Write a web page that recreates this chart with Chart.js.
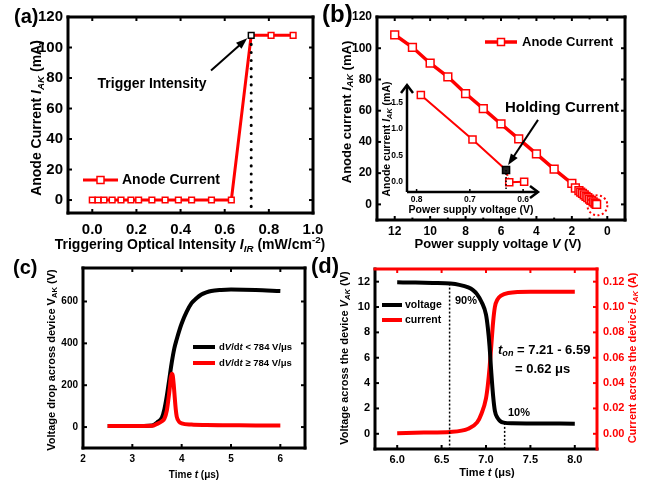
<!DOCTYPE html>
<html>
<head>
<meta charset="utf-8">
<script src="https://cdn.jsdelivr.net/npm/chart.js@4.4.1/dist/chart.umd.min.js"></script>
<style>
  html, body { margin: 0; padding: 0; background: #fff; }
  #wrap { position: relative; width: 650px; height: 482px; overflow: hidden; background: #fff; }
  #wrap canvas { position: absolute; left: 0; top: 0; }
</style>
</head>
<body>
<div id="wrap">
  <canvas id="chartA" width="650" height="482"></canvas>
  <canvas id="chartB" width="650" height="482"></canvas>
  <canvas id="chartInset" width="650" height="482"></canvas>
  <canvas id="chartC" width="650" height="482"></canvas>
  <canvas id="chartD" width="650" height="482"></canvas>
</div>
<script>
const FONT = '"Liberation Sans", Arial, Helvetica, sans-serif';
const RED = '#ff0000';

// (a) anode current vs triggering optical intensity
const aIntensity = [0, 0.026, 0.053, 0.09, 0.13, 0.175, 0.21, 0.27, 0.33, 0.39, 0.45, 0.54, 0.63, 0.72, 0.81, 0.91];
const aCurrent = [0, 0, 0, 0, 0, 0, 0, 0, 0, 0, 0, 0, 0, 108, 108, 108];
const aTriggerIdx = 13;
const aXTicks = [0, 0.2, 0.4, 0.6, 0.8, 1.0];
const aYTicks = [0, 20, 40, 60, 80, 100, 120];

// (b) anode current vs power supply voltage
const bVoltage = [12, 11, 10, 9, 8, 7, 6, 5, 4, 3, 2, 1.8, 1.6, 1.5, 1.4, 1.3, 1.2, 1.1, 1.0, 0.9, 0.8, 0.7, 0.65, 0.6];
const bCurrent = [108.6, 100.6, 90.4, 81.7, 71.0, 61.3, 51.5, 42.0, 32.3, 22.6, 13.4, 10.5, 8.8, 7.9, 7.0, 6.1, 5.2, 4.3, 3.4, 2.5, 1.6, 0.8, 0.3, 0.0];
const bXTicks = [12, 10, 8, 6, 4, 2, 0];
const bXMinor = [13, 11, 9, 7, 5, 3, 1];
const bYTicks = [0, 20, 40, 60, 80, 100, 120];

// (b) inset, holding current
const insetVoltage = [0.792, 0.695, 0.632, 0.626, 0.598];
const insetCurrent = [1.64, 0.80, 0.22, -0.01, 0.0];
const insetHoldIdx = 2;
const insetXTicks = [0.8, 0.7, 0.6];
const insetYTicks = [0, 0.5, 1.0, 1.5];

// (c) voltage drop across device
const cTimeSlow = [2.5, 3.0, 3.4, 3.5, 3.6, 3.65, 3.7, 3.75, 3.8, 3.85, 3.9, 3.95, 4.0, 4.1, 4.2, 4.3, 4.4, 4.5, 4.6, 4.8, 5.0, 5.5, 6.0];
const cVoltSlow = [5, 5, 8, 22, 45, 85, 150, 230, 310, 375, 420, 460, 495, 550, 592, 615, 633, 643, 650, 655, 657, 655, 650];
const cTimeFast = [2.5, 3.0, 3.4, 3.5, 3.6, 3.65, 3.7, 3.73, 3.76, 3.78, 3.8, 3.82, 3.84, 3.86, 3.88, 3.9, 3.95, 4.0, 4.2, 4.5, 5.0, 5.5, 6.0];
const cVoltFast = [5, 5, 6, 15, 28, 40, 80, 130, 190, 235, 255, 245, 200, 140, 85, 50, 25, 18, 12, 10, 9, 8, 8];
const cXTicks = [2, 3, 4, 5, 6];
const cYTicks = [0, 200, 400, 600];

// (d) turn-on transient
const dTimeV = [6.0, 6.2, 6.4, 6.6, 6.7, 6.8, 6.85, 6.9, 6.95, 7.0, 7.02, 7.04, 7.06, 7.08, 7.1, 7.13, 7.16, 7.2, 7.3, 7.5, 8.0];
const dVoltage = [11.95, 11.93, 11.9, 11.85, 11.75, 11.55, 11.35, 11.0, 10.4, 9.4, 8.4, 6.9, 4.8, 3.0, 1.8, 1.25, 1.0, 0.88, 0.83, 0.82, 0.8];
const dTimeI = [6.0, 6.3, 6.6, 6.8, 6.9, 6.95, 7.0, 7.02, 7.04, 7.06, 7.08, 7.1, 7.13, 7.17, 7.25, 7.5, 8.0];
const dCurrent = [0.0005, 0.001, 0.0015, 0.004, 0.009, 0.016, 0.028, 0.038, 0.052, 0.07, 0.088, 0.1, 0.106, 0.109, 0.111, 0.112, 0.112];
const dT90 = 6.59, dT10 = 7.21;
const dXTicks = [6.0, 6.5, 7.0, 7.5, 8.0];
const dYTicks = [0, 2, 4, 6, 8, 10, 12];
const dY2Ticks = [0, 0.02, 0.04, 0.06, 0.08, 0.10, 0.12];

const pts = (xs, ys) => xs.map((x, i) => ({ x: x, y: ys[i] }));

// draws text made of parts: [text, flags] with i = italic, s = subscript, p = superscript
function rich(ctx, parts, x, y, size, opt) {
  opt = opt || {};
  ctx.save();
  ctx.translate(x, y);
  if (opt.rot) ctx.rotate(opt.rot);
  ctx.fillStyle = opt.color || '#000';
  ctx.textBaseline = 'middle';
  ctx.textAlign = 'left';
  const items = parts.map(p => {
    const f = p[1] || '';
    const small = f.includes('s') || f.includes('p');
    const font = (f.includes('i') ? 'italic ' : '') + 'bold ' + (small ? size * 0.7 : size) + 'px ' + FONT;
    ctx.font = font;
    return { t: p[0], font: font, w: ctx.measureText(p[0]).width,
             dy: f.includes('s') ? size * 0.3 : (f.includes('p') ? -size * 0.35 : 0) };
  });
  const total = items.reduce((s, it) => s + it.w, 0);
  let cx = opt.align === 'left' ? 0 : (opt.align === 'right' ? -total : -total / 2);
  items.forEach(it => { ctx.font = it.font; ctx.fillText(it.t, cx, it.dy); cx += it.w; });
  ctx.restore();
}

function seg(ctx, x1, y1, x2, y2, color) {
  ctx.strokeStyle = color;
  ctx.beginPath(); ctx.moveTo(x1, y1); ctx.lineTo(x2, y2); ctx.stroke();
}

function arrow(ctx, x1, y1, x2, y2, head, color, lw) {
  const ang = Math.atan2(y2 - y1, x2 - x1);
  ctx.save();
  ctx.lineWidth = lw;
  seg(ctx, x1, y1, x2 - head * 0.7 * Math.cos(ang), y2 - head * 0.7 * Math.sin(ang), color);
  ctx.fillStyle = color;
  ctx.beginPath();
  ctx.moveTo(x2, y2);
  ctx.lineTo(x2 - head * Math.cos(ang - 0.35), y2 - head * Math.sin(ang - 0.35));
  ctx.lineTo(x2 - head * Math.cos(ang + 0.35), y2 - head * Math.sin(ang + 0.35));
  ctx.closePath(); ctx.fill();
  ctx.restore();
}

// thick box with inward ticks on all four sides
function frame(chart, xTicks, yTicks, o) {
  o = o || {};
  const { ctx, chartArea: a } = chart;
  const xs = chart.scales.x, ys = chart.scales.y;
  const c = Object.assign({ left: '#000', right: '#000', top: '#000', bottom: '#000' }, o.colors || {});
  const L = o.len || 4;
  ctx.save();
  ctx.lineWidth = 2;
  xTicks.forEach(v => {
    const px = xs.getPixelForValue(v);
    seg(ctx, px, a.bottom, px, a.bottom - L, c.bottom);
    seg(ctx, px, a.top, px, a.top + L, c.top);
  });
  (o.xMinor || []).forEach(v => {
    const px = xs.getPixelForValue(v);
    seg(ctx, px, a.bottom, px, a.bottom - L * 0.6, c.bottom);
    seg(ctx, px, a.top, px, a.top + L * 0.6, c.top);
  });
  yTicks.forEach(v => {
    const py = ys.getPixelForValue(v);
    seg(ctx, a.left, py, a.left + L, py, c.left);
    seg(ctx, a.right, py, a.right - L, py, c.right);
  });
  ctx.lineWidth = o.lw || 3;
  ctx.lineCap = 'square';
  seg(ctx, a.left, a.bottom, a.right, a.bottom, c.bottom);
  seg(ctx, a.left, a.top, a.left, a.bottom, c.left);
  seg(ctx, a.left, a.top, a.right, a.top, c.top);
  seg(ctx, a.right, a.top, a.right, a.bottom, c.right);
  ctx.restore();
}

function legendItem(ctx, x1, x2, y, color, lw, marker) {
  ctx.save();
  ctx.lineWidth = lw;
  seg(ctx, x1, y, x2, y, color);
  if (marker) {
    const m = (x1 + x2) / 2, h = marker / 2;
    ctx.fillStyle = '#fff';
    ctx.fillRect(m - h, y - h, marker, marker);
    ctx.lineWidth = 1.5;
    ctx.strokeRect(m - h, y - h, marker, marker);
  }
  ctx.restore();
}

// axis whose box has a fixed size, so the plot area is set by the box sizes and padding
function axis(list, fmt, size, pad, box, extra, color) {
  return Object.assign({
    type: 'linear',
    grid: { display: false, drawTicks: false },
    border: { display: false },
    title: { display: false },
    ticks: {
      autoSkip: false, maxRotation: 0, minRotation: 0, padding: pad,
      font: { family: FONT, size: size, weight: 'bold' }, color: color || '#000',
      callback: v => fmt(v)
    },
    afterBuildTicks: s => { s.ticks = list.map(v => ({ value: v })); },
    afterFit: s => { if (s.isHorizontal()) s.height = box; else s.width = box; }
  }, extra);
}

function baseOptions(pad, scales) {
  return {
    responsive: false, animation: false, devicePixelRatio: 1, events: [],
    layout: { padding: pad },
    scales: scales,
    plugins: { legend: { display: false }, tooltip: { enabled: false } }
  };
}

// ---------- (a) ----------
new Chart(document.getElementById('chartA'), {
  type: 'line',
  data: {
    datasets: [{
      data: pts(aIntensity, aCurrent),
      borderColor: RED, borderWidth: 3,
      pointStyle: 'rect', pointRadius: 4, pointBorderWidth: 1.5,
      pointBackgroundColor: '#fff',
      pointBorderColor: aIntensity.map((_, i) => i === aTriggerIdx ? '#000' : RED)
    }]
  },
  options: baseOptions({ left: 0, top: 17, right: 337, bottom: 0 }, {
    x: axis(aXTicks, v => v.toFixed(1), 15, 8, 269, { min: -0.11, max: 1.0 }),
    y: axis(aYTicks, v => String(v), 15, 5, 68, { min: -8.5, max: 120 })
  }),
  plugins: [{
    id: 'decorA',
    afterDraw(chart) {
      const { ctx, chartArea: a, scales: { x, y } } = chart;
      const tx = x.getPixelForValue(aIntensity[aTriggerIdx]);
      const ty = y.getPixelForValue(aCurrent[aTriggerIdx]);
      ctx.save();
      ctx.lineWidth = 3; ctx.lineCap = 'round'; ctx.setLineDash([0.1, 8]);
      seg(ctx, tx, ty + 9, tx, a.bottom, '#000');
      ctx.restore();
      frame(chart, aXTicks, aYTicks);
      arrow(ctx, x.getPixelForValue(0.538), y.getPixelForValue(85), tx - 4, ty + 3, 12, '#000', 2);
      rich(ctx, [['Trigger Intensity']], 152, 84, 14);
      legendItem(ctx, 83, 118, 180, RED, 3, 7);
      rich(ctx, [['Anode Current']], 122, 180, 14, { align: 'left' });
      rich(ctx, [['(a)']], 14, 17, 20, { align: 'left' });
      rich(ctx, [['Anode Current '], ['I', 'i'], ['AK', 'is'], [' (mA)']], 37, 118, 14, { rot: -Math.PI / 2 });
      rich(ctx, [['Triggering Optical Intensity '], ['I', 'i'], ['IR', 'is'], [' (mW/cm'], ['-2', 'p'], [')']], 190, 245, 14);
    }
  }]
});

// ---------- (b) ----------
new Chart(document.getElementById('chartB'), {
  type: 'line',
  data: {
    datasets: [{
      data: pts(bVoltage, bCurrent),
      borderColor: RED, borderWidth: 3.5,
      pointStyle: 'rect', pointRadius: 5.5, pointBorderWidth: 1.5,
      pointBackgroundColor: '#fff', pointBorderColor: RED
    }]
  },
  options: baseOptions({ left: 0, top: 17, right: 25, bottom: 0 }, {
    x: axis(bXTicks, v => String(v), 12, 4, 262, { min: -1, max: 13, reverse: true }),
    y: axis(bYTicks, v => String(v), 12, 5, 377, { min: -10, max: 120 })
  }),
  plugins: [{
    id: 'decorB',
    afterDraw(chart) {
      const { ctx, scales: { x, y } } = chart;
      frame(chart, bXTicks, bYTicks, { xMinor: bXMinor });
      ctx.save();
      ctx.lineWidth = 2; ctx.setLineDash([2, 2.5]); ctx.strokeStyle = RED;
      ctx.beginPath();
      ctx.arc(x.getPixelForValue(0.56), y.getPixelForValue(-0.6), 10, 0, Math.PI * 2);
      ctx.stroke();
      ctx.restore();
      legendItem(ctx, 485, 517, 42, RED, 3.5, 7);
      rich(ctx, [['Anode Current']], 522, 42, 13, { align: 'left' });
      rich(ctx, [['(b)']], 322, 15, 24, { align: 'left' });
      rich(ctx, [['Anode current '], ['I', 'i'], ['AK', 'is'], [' (mA)']], 347, 112, 13, { rot: -Math.PI / 2 });
      rich(ctx, [['Power supply voltage '], ['V', 'i'], [' (V)']], 498, 244, 13);
    }
  }]
});

// ---------- (b) inset ----------
new Chart(document.getElementById('chartInset'), {
  type: 'line',
  data: {
    datasets: [{
      data: pts(insetVoltage, insetCurrent),
      borderColor: RED, borderWidth: 2,
      segment: { borderDash: s => s.p0DataIndex === insetHoldIdx ? [2, 2] : undefined },
      pointStyle: 'rect', pointRadius: 5, pointBorderWidth: 1.5,
      pointBackgroundColor: insetVoltage.map((_, i) => i === insetHoldIdx ? '#222' : '#fff'),
      pointBorderColor: insetVoltage.map((_, i) => i === insetHoldIdx ? '#000' : RED)
    }]
  },
  options: baseOptions({ left: 0, top: 85, right: 112, bottom: 0 }, {
    x: axis(insetXTicks, v => v.toFixed(1), 8.5, 3, 290, { min: 0.572, max: 0.818, reverse: true }),
    y: axis(insetYTicks, v => v.toFixed(1), 8.5, 4, 407, { min: -0.195, max: 1.83 })
  }),
  plugins: [{
    id: 'decorInset',
    afterDraw(chart) {
      const { ctx, chartArea: a, scales: { x, y } } = chart;
      const hx = x.getPixelForValue(insetVoltage[insetHoldIdx]);
      const hy = y.getPixelForValue(insetCurrent[insetHoldIdx]);
      ctx.save();
      ctx.lineWidth = 1.5; ctx.setLineDash([1.5, 2]);
      seg(ctx, hx, hy, hx, a.bottom, '#000');
      ctx.setLineDash([]);
      ctx.lineWidth = 2.5; ctx.lineJoin = 'miter';
      seg(ctx, a.left, a.bottom, a.left, a.top, '#000');
      seg(ctx, a.left, a.bottom, a.right, a.bottom, '#000');
      ctx.beginPath();
      ctx.moveTo(a.left - 6, a.top + 8); ctx.lineTo(a.left, a.top); ctx.lineTo(a.left + 6, a.top + 8);
      ctx.moveTo(a.right - 8, a.bottom - 6); ctx.lineTo(a.right, a.bottom); ctx.lineTo(a.right - 8, a.bottom + 6);
      ctx.stroke();
      ctx.lineWidth = 1.5;
      insetXTicks.forEach(v => { const px = x.getPixelForValue(v); seg(ctx, px, a.bottom, px, a.bottom - 3, '#000'); });
      ctx.restore();
      arrow(ctx, x.getPixelForValue(0.572), y.getPixelForValue(1.17), hx + 2, hy - 5, 12, '#000', 2);
      rich(ctx, [['Holding Current']], 562, 108, 15);
      rich(ctx, [['Anode current '], ['I', 'i'], ['AK', 'is'], [' (mA)']], 387, 139, 10.5, { rot: -Math.PI / 2 });
      rich(ctx, [['Power supply voltage (V)']], 471, 210, 10.5);
    }
  }]
});

// ---------- (c) ----------
new Chart(document.getElementById('chartC'), {
  type: 'line',
  data: {
    datasets: [
      { data: pts(cTimeFast, cVoltFast), borderColor: RED, borderWidth: 4, pointRadius: 0,
        cubicInterpolationMode: 'monotone', order: 0 },
      { data: pts(cTimeSlow, cVoltSlow), borderColor: '#000', borderWidth: 4, pointRadius: 0,
        cubicInterpolationMode: 'monotone', order: 1 }
    ]
  },
  options: baseOptions({ left: 0, top: 268, right: 345, bottom: 0 }, {
    x: axis(cXTicks, v => String(v), 10, 5, 34, { min: 2, max: 6.5 }),
    y: axis(cYTicks, v => String(v), 10, 5, 83, { min: -100, max: 760 })
  }),
  plugins: [{
    id: 'decorC',
    afterDraw(chart) {
      const { ctx } = chart;
      frame(chart, cXTicks, cYTicks);
      legendItem(ctx, 193, 215, 347, '#000', 4);
      rich(ctx, [['d'], ['V', 'i'], ['/d'], ['t', 'i'], [' < 784 V/\u03bcs']], 219, 347, 9.5, { align: 'left' });
      legendItem(ctx, 193, 215, 363, RED, 4);
      rich(ctx, [['d'], ['V', 'i'], ['/d'], ['t', 'i'], [' \u2265 784 V/\u03bcs']], 219, 363, 9.5, { align: 'left' });
      rich(ctx, [['(c)']], 13, 268, 20, { align: 'left' });
      rich(ctx, [['Voltage drop across device V'], ['AK', 's'], [' (V)']], 52, 360, 11, { rot: -Math.PI / 2 });
      rich(ctx, [['Time '], ['t', 'i'], [' (\u03bcs)']], 194, 475, 10);
    }
  }]
});

// ---------- (d) ----------
new Chart(document.getElementById('chartD'), {
  type: 'line',
  data: {
    datasets: [
      { data: pts(dTimeV, dVoltage), yAxisID: 'y', borderColor: '#000', borderWidth: 4, pointRadius: 0,
        cubicInterpolationMode: 'monotone', order: 0 },
      { data: pts(dTimeI, dCurrent), yAxisID: 'y2', borderColor: RED, borderWidth: 4, pointRadius: 0,
        cubicInterpolationMode: 'monotone', order: 1 }
    ]
  },
  options: baseOptions({ left: 0, top: 269, right: 0, bottom: 0 }, {
    x: axis(dXTicks, v => v.toFixed(1), 11, 4, 33, { min: 5.75, max: 8.25 }),
    y: axis(dYTicks, v => String(v), 11, 5, 375, { min: -1.2, max: 13 }),
    y2: axis(dY2Ticks, v => v.toFixed(2), 11, 6, 53, { min: -0.012, max: 0.13, position: 'right' }, RED)
  }),
  plugins: [{
    id: 'decorD',
    afterDraw(chart) {
      const { ctx, chartArea: a, scales: { x, y } } = chart;
      ctx.save();
      ctx.lineWidth = 1.5; ctx.setLineDash([2, 2]);
      seg(ctx, x.getPixelForValue(dT90), y.getPixelForValue(11.85), x.getPixelForValue(dT90), a.bottom, '#000');
      seg(ctx, x.getPixelForValue(dT10), y.getPixelForValue(0.86), x.getPixelForValue(dT10), a.bottom, '#000');
      ctx.restore();
      frame(chart, dXTicks, dYTicks, { colors: { top: RED, right: RED } });
      legendItem(ctx, 382, 402, 305, '#000', 4);
      rich(ctx, [['voltage']], 405, 305, 10.5, { align: 'left' });
      legendItem(ctx, 382, 402, 320, RED, 4);
      rich(ctx, [['current']], 405, 320, 10.5, { align: 'left' });
      rich(ctx, [['90%']], 455, 301, 11, { align: 'left' });
      rich(ctx, [['10%']], 508, 413, 11, { align: 'left' });
      rich(ctx, [['t', 'i'], ['on', 'is'], [' = 7.21 - 6.59']], 498, 350, 13, { align: 'left' });
      rich(ctx, [['= 0.62 \u03bcs']], 515, 369, 13, { align: 'left' });
      rich(ctx, [['(d)']], 311, 267, 22, { align: 'left' });
      rich(ctx, [['Voltage across the device '], ['V', 'i'], ['AK', 'is'], [' (V)']], 345, 358, 11, { rot: -Math.PI / 2 });
      rich(ctx, [['Current across the device '], ['I', 'i'], ['AK', 'is'], [' (A)']], 633, 358, 11, { rot: -Math.PI / 2, color: RED });
      rich(ctx, [['Time '], ['t', 'i'], [' (\u03bcs)']], 487, 473, 11);
    }
  }]
});
</script>
</body>
</html>
